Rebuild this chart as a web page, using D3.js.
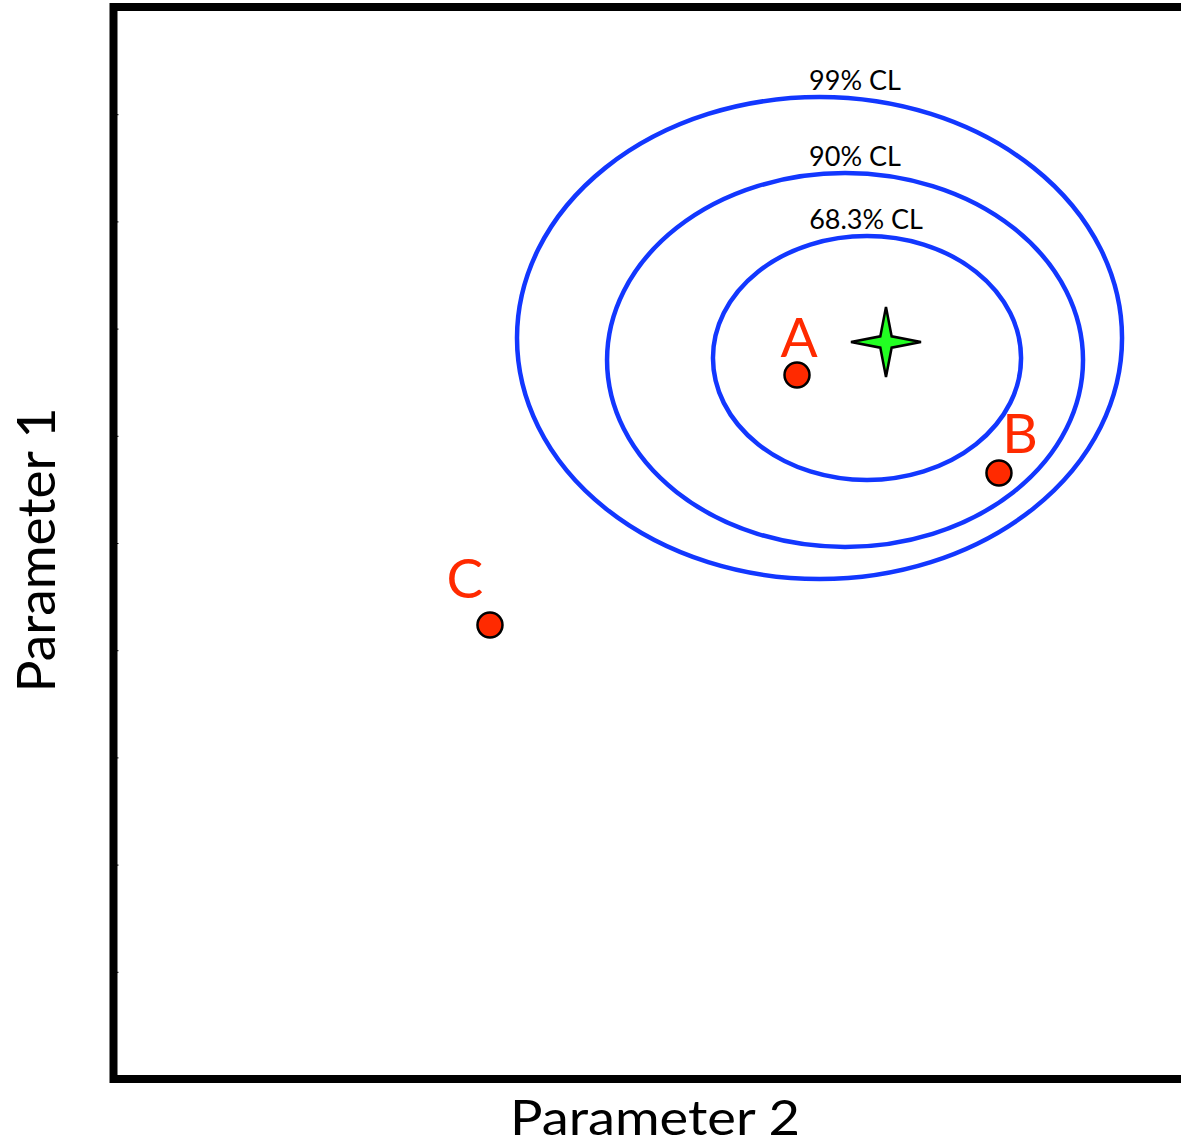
<!DOCTYPE html>
<html>
<head>
<meta charset="utf-8">
<script src="https://cdn.jsdelivr.net/npm/d3@7"></script>
<style>
  body { margin: 0; background: #fff; }
  svg { display: block; font-family: Lato, "Open Sans", sans-serif; }
</style>
</head>
<body>
<div id="chart"></div>
<script>
// data, in axis units (0..10 on both axes)
var ellipseNames = ["99% CL", "90% CL", "68.3% CL"];
var ellipseCx = [6.586, 6.824, 7.029];
var ellipseCy = [6.912, 6.707, 6.726];
var ellipseRx = [2.822, 2.220, 1.437];
var ellipseRy = [2.248, 1.744, 1.138];
var ellipseLabelX = [6.917, 6.917, 7.02];

var pointNames = ["A", "B", "C"];
var pointX = [6.376, 8.260, 3.512];
var pointY = [6.567, 5.653, 4.235];

var bestFit = [7.206, 6.875];

var yTicks = [0, 1, 2, 3, 4, 5, 6, 7, 8, 9, 10];

var width = 1181, height = 1146;
var margin = {top: 7, left: 113.5, bottom: 67};
var plotH = height - margin.top - margin.bottom,
    plotW = plotH;

var svg = d3.select("#chart").append("svg")
    .attr("width", width)
    .attr("height", height);

var x = d3.scaleLinear().domain([0, 10]).range([margin.left, margin.left + plotW]);
var y = d3.scaleLinear().domain([0, 10]).range([margin.top + plotH, margin.top]);

// little tick stubs on the left side
var yAxis = d3.axisRight(y).tickValues(yTicks).tickSize(5).tickFormat("");
svg.append("g")
    .attr("transform", "translate(" + margin.left + ",0)")
    .call(yAxis)
    .call(function(g) { g.select(".domain").remove(); })
    .selectAll("line").attr("stroke", "#000").attr("stroke-width", 1);

// frame
svg.append("rect")
    .attr("x", x(0))
    .attr("y", y(10))
    .attr("width", x(10) - x(0))
    .attr("height", y(0) - y(10))
    .attr("fill", "none")
    .attr("stroke", "#000")
    .attr("stroke-width", 8);

// confidence ellipses
var ell = ellipseNames.map(function(n, i) {
  return {name: n, cx: ellipseCx[i], cy: ellipseCy[i], rx: ellipseRx[i], ry: ellipseRy[i], lx: ellipseLabelX[i]};
});

svg.selectAll(".ell")
    .data(ell)
  .enter().append("ellipse")
    .attr("class", "ell")
    .attr("cx", function(d) { return x(d.cx); })
    .attr("cy", function(d) { return y(d.cy); })
    .attr("rx", function(d) { return x(d.cx + d.rx) - x(d.cx); })
    .attr("ry", function(d) { return y(d.cy - d.ry) - y(d.cy); })
    .attr("fill", "none")
    .attr("stroke", "#1237ff")
    .attr("stroke-width", 4.5);

svg.selectAll(".ell-label")
    .data(ell)
  .enter().append("text")
    .attr("class", "ell-label")
    .attr("x", function(d) { return x(d.lx); })
    .attr("y", function(d) { return y(d.cy + d.ry) - 7; })
    .attr("text-anchor", "middle")
    .attr("font-size", 27)
    .text(function(d) { return d.name; });

// points A, B, C
var pts = pointNames.map(function(n, i) { return {name: n, x: pointX[i], y: pointY[i]}; });
var labelOffset = {A: [2, -18], B: [21, -20], C: [-25, -27]};

svg.selectAll(".pt")
    .data(pts)
  .enter().append("circle")
    .attr("class", "pt")
    .attr("cx", function(d) { return x(d.x); })
    .attr("cy", function(d) { return y(d.y); })
    .attr("r", 12.5)
    .attr("fill", "#ff2a00")
    .attr("stroke", "#000")
    .attr("stroke-width", 2.5);

svg.selectAll(".pt-label")
    .data(pts)
  .enter().append("text")
    .attr("class", "pt-label")
    .attr("x", function(d) { return x(d.x) + labelOffset[d.name][0]; })
    .attr("y", function(d) { return y(d.y) + labelOffset[d.name][1]; })
    .attr("text-anchor", "middle")
    .attr("font-size", 55)
    .attr("fill", "#ff2a00")
    .text(function(d) { return d.name; });

// best fit star
var starPts = d3.range(8).map(function(i) {
  var a = i * Math.PI / 4, r = (i % 2 === 0) ? 35 : 8;
  return [r * Math.sin(a), -r * Math.cos(a)];
});
svg.append("path")
    .attr("transform", "translate(" + x(bestFit[0]) + "," + y(bestFit[1]) + ")")
    .attr("d", d3.line().curve(d3.curveLinearClosed)(starPts))
    .attr("fill", "#22ff22")
    .attr("stroke", "#000")
    .attr("stroke-width", 2.5)
    .attr("stroke-linejoin", "miter");

// axis titles
svg.append("text")
    .attr("x", 655)
    .attr("y", 1135)
    .attr("text-anchor", "middle")
    .attr("font-size", 48)
    .attr("textLength", 290)
    .attr("lengthAdjust", "spacingAndGlyphs")
    .text("Parameter 2");

svg.append("text")
    .attr("transform", "translate(55,550) rotate(-90)")
    .attr("text-anchor", "middle")
    .attr("font-size", 52)
    .attr("textLength", 285)
    .attr("lengthAdjust", "spacingAndGlyphs")
    .text("Parameter 1");
</script>
</body>
</html>
